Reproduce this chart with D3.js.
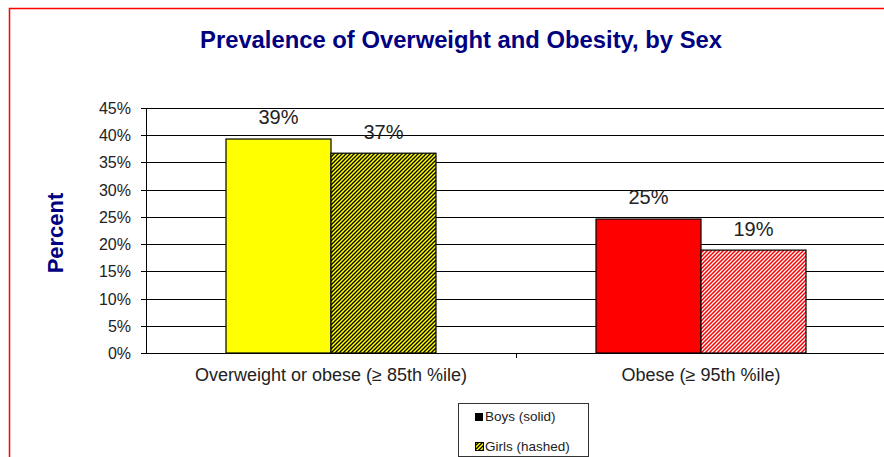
<!DOCTYPE html>
<html>
<head>
<meta charset="utf-8">
<script src="https://cdn.jsdelivr.net/npm/d3@7"></script>
<style>
  body { margin: 0; background: #fff; }
  svg { display: block; font-family: Arial, "Liberation Sans", sans-serif; }
</style>
</head>
<body>
<div id="chart"></div>
<script>
const width = 884, height = 457;

// data
const categories = ['Overweight or obese (\u2265 85th %ile)', 'Obese (\u2265 95th %ile)'];
const boys = [39.3, 24.6];
const girls = [36.7, 18.9];
const boysLabels = ['39%', '25%'];
const girlsLabels = ['37%', '19%'];
const yTicks = [0, 5, 10, 15, 20, 25, 30, 35, 40, 45];
const boysColors = ['#ffff00', '#ff0000'];
const girlsStripe = ['#000000', '#ffffff'];

const svg = d3.select('#chart').append('svg').attr('width', width).attr('height', height);

// patterns for hashed bars
const defs = svg.append('defs');
function hatch(id, bg, fg) {
    const p = defs.append('pattern')
        .attr('id', id)
        .attr('patternUnits', 'userSpaceOnUse')
        .attr('width', 4).attr('height', 4);
    p.append('rect').attr('width', 4).attr('height', 4).attr('fill', bg);
    p.append('path')
        .attr('d', 'M-1,1 l2,-2 M0,4 l4,-4 M3,5 l2,-2')
        .attr('stroke', fg).attr('stroke-width', 1.3);
}
hatch('hatch0', boysColors[0], girlsStripe[0]);
hatch('hatch1', boysColors[1], girlsStripe[1]);

// red frame
svg.append('path')
    .attr('d', 'M9.5,' + height + ' V8.5 H' + width)
    .attr('fill', 'none').attr('stroke', '#ff0000').attr('stroke-width', 1.5);

// title
svg.append('text')
    .attr('x', 461).attr('y', 48)
    .attr('text-anchor', 'middle')
    .attr('fill', '#000080')
    .style('font-size', '23.8px').style('font-weight', 'bold')
    .text('Prevalence of Overweight and Obesity, by Sex');

const x0 = d3.scaleBand().domain(d3.range(categories.length)).range([146, 886]);
const y = d3.scaleLinear().domain([0, 45]).range([353, 108]);
const barW = 105;

// gridlines
svg.append('g').selectAll('line')
    .data(yTicks)
    .enter().append('line')
    .attr('x1', 141).attr('x2', width)
    .attr('y1', d => Math.round(y(d)) + 0.5).attr('y2', d => Math.round(y(d)) + 0.5)
    .attr('stroke', '#000').attr('stroke-width', 1);

// y tick labels
svg.append('g').selectAll('text')
    .data(yTicks)
    .enter().append('text')
    .attr('x', 131).attr('y', d => y(d) + 6)
    .attr('text-anchor', 'end')
    .style('font-size', '16px').attr('fill', '#222')
    .text(d => d + '%');

// y axis line
svg.append('line')
    .attr('x1', 146.5).attr('x2', 146.5)
    .attr('y1', y(45)).attr('y2', y(0) + 1)
    .attr('stroke', '#000');

// category tick
svg.append('line')
    .attr('x1', x0(1) + 0.5).attr('x2', x0(1) + 0.5)
    .attr('y1', y(0)).attr('y2', y(0) + 5)
    .attr('stroke', '#000');

// y label
svg.append('text')
    .attr('transform', 'translate(63,233) rotate(-90)')
    .attr('text-anchor', 'middle')
    .attr('fill', '#000080')
    .style('font-size', '22px').style('font-weight', 'bold')
    .text('Percent');

// bars
const cx = i => x0(i) + x0.bandwidth() / 2;
categories.forEach((c, i) => {
    svg.append('rect')
        .attr('x', cx(i) - barW).attr('y', y(boys[i]))
        .attr('width', barW).attr('height', y(0) - y(boys[i]))
        .attr('fill', boysColors[i]).attr('stroke', '#000').attr('stroke-width', 1.2);
    svg.append('rect')
        .attr('x', cx(i)).attr('y', y(girls[i]))
        .attr('width', barW).attr('height', y(0) - y(girls[i]))
        .attr('fill', 'url(#hatch' + i + ')').attr('stroke', '#000').attr('stroke-width', 1.2);

    svg.append('text')
        .attr('x', cx(i) - barW / 2).attr('y', y(boys[i]) - 15)
        .attr('text-anchor', 'middle')
        .style('font-size', '20px').attr('fill', '#222')
        .text(boysLabels[i]);
    svg.append('text')
        .attr('x', cx(i) + barW / 2).attr('y', y(girls[i]) - 14)
        .attr('text-anchor', 'middle')
        .style('font-size', '20px').attr('fill', '#222')
        .text(girlsLabels[i]);

    svg.append('text')
        .attr('x', cx(i)).attr('y', 381)
        .attr('text-anchor', 'middle')
        .style('font-size', '18px').attr('fill', '#222')
        .text(c);
});

// legend
const lg = svg.append('g').attr('transform', 'translate(458,403)');
lg.append('rect').attr('x', 0.5).attr('y', 0.5).attr('width', 130).attr('height', 53)
    .attr('fill', '#fff').attr('stroke', '#333');
lg.append('rect').attr('x', 17).attr('y', 10).attr('width', 8).attr('height', 8).attr('fill', '#000');
lg.append('text').attr('x', 27).attr('y', 18).style('font-size', '13.5px').attr('fill', '#222').text('Boys (solid)');
lg.append('rect').attr('x', 17.5).attr('y', 39.5).attr('width', 8).attr('height', 8)
    .attr('fill', 'url(#hatch0)').attr('stroke', '#000');
lg.append('text').attr('x', 27).attr('y', 48).style('font-size', '13.5px').attr('fill', '#222').text('Girls (hashed)');
</script>
</body>
</html>
